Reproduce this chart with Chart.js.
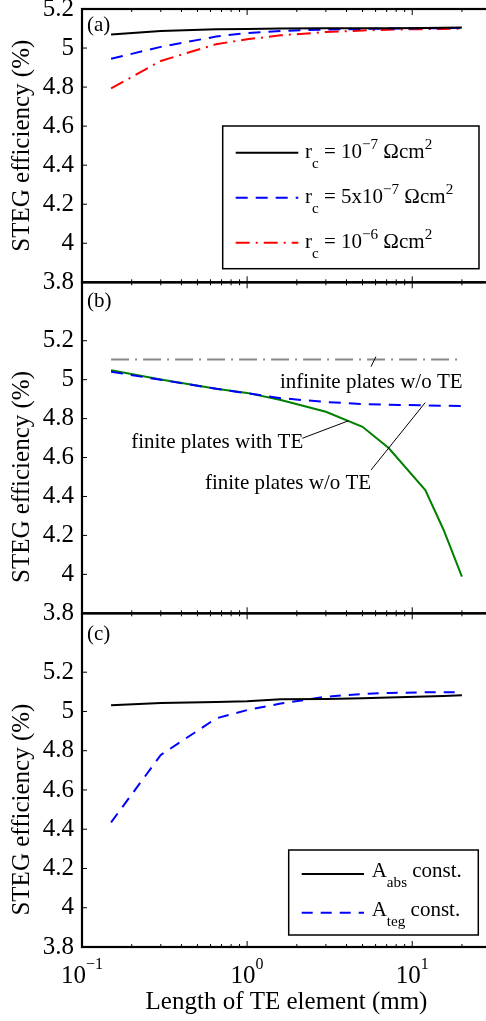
<!DOCTYPE html>
<html lang="en">
  <head>
    <meta charset="UTF-8" />
    <title>STEG efficiency vs length of TE element</title>
    <script src="https://cdn.jsdelivr.net/npm/chart.js@4.4.0/dist/chart.umd.min.js"></script>
    <style>
      html, body {
        margin: 0;
        padding: 0;
        width: 486px;
        height: 1021px;
        overflow: hidden;
        background: #fff;
      }
      canvas {
        position: absolute;
        left: 0;
      }
      #panelA { top: 0; }
      #panelB { top: 270px; }
      #panelC { top: 600px; }
    </style>
  </head>
  <body>
    <canvas id="panelA" width="500" height="300"></canvas>
    <canvas id="panelB" width="500" height="350"></canvas>
    <canvas id="panelC" width="500" height="421"></canvas>

    <script>
      // ---------- data (x: mm, y: %) ----------
      const lengthMm = [0.15, 0.3, 0.65, 1, 1.6, 3, 5, 7.2, 12, 15.5, 20];

      // (a) contact resistance r_c
      const effRc1e7 = [5.070, 5.087, 5.096, 5.098, 5.100, 5.101, 5.102, 5.102, 5.103, 5.104, 5.105];
      const effRc5e7 = [4.945, 5.006, 5.059, 5.077, 5.088, 5.095, 5.098, 5.100, 5.101, 5.102, 5.103];
      const effRc1e6 = [4.793, 4.934, 5.020, 5.045, 5.065, 5.082, 5.090, 5.094, 5.097, 5.098, 5.100];

      // (b) plate models
      const effInfiniteNoTE = [5.104, 5.104, 5.104, 5.104, 5.104, 5.104, 5.104, 5.104, 5.104, 5.104, 5.104];
      const effFiniteWithTE = [5.048, 5.001, 4.953, 4.932, 4.895, 4.835, 4.758, 4.649, 4.433, 4.228, 3.988];
      const effFiniteNoTE = [5.041, 4.999, 4.953, 4.930, 4.905, 4.885, 4.875, 4.871, 4.868, 4.866, 4.865];

      // (c) constant area
      const effAabsConst = [5.031, 5.043, 5.048, 5.052, 5.062, 5.063, 5.067, 5.071, 5.076, 5.079, 5.082];
      const effAtegConst = [4.435, 4.778, 4.965, 5.007, 5.040, 5.075, 5.089, 5.094, 5.098, 5.098, 5.098];

      // ticks
      const yTicks = [3.8, 4, 4.2, 4.4, 4.6, 4.8, 5, 5.2];
      const xTicks = [0.1, 1, 10];
      const xTickExp = ["\u22121", "0", "1"];
      const xMinorTicks = [0.2, 0.3, 0.4, 0.5, 0.6, 0.7, 0.8, 0.9, 2, 3, 4, 5, 6, 7, 8, 9, 20];

      const FONT = '"Liberation Serif", "Times New Roman", "DejaVu Serif", serif';

      function pts(ys) {
        return lengthMm.map((x, i) => ({ x: x, y: ys[i] }));
      }

      // text with sub / superscripts, parts = [[text, ''|'sub'|'sup'], ...]
      function drawRich(ctx, parts, x, y, size) {
        let cx = x;
        ctx.textAlign = "left";
        ctx.textBaseline = "alphabetic";
        for (const [t, kind] of parts) {
          const s = kind ? size * 0.72 : size;
          ctx.font = s + "px " + FONT;
          let dy = 0;
          if (kind === "sub") dy = size * 0.48;
          if (kind === "sup") dy = -size * 0.42;
          ctx.fillText(t, cx, y + dy);
          cx += ctx.measureText(t).width;
        }
      }

      function strokeSample(ctx, ds, x1, x2, y) {
        ctx.save();
        ctx.strokeStyle = ds.borderColor;
        ctx.lineWidth = ds.borderWidth;
        ctx.setLineDash(ds.borderDash || []);
        ctx.beginPath();
        ctx.moveTo(x1, y);
        ctx.lineTo(x2, y);
        ctx.stroke();
        ctx.restore();
      }

      const deco = {
        id: "deco",
        afterDraw(chart, args, opts) {
          const { ctx, chartArea: a } = chart;
          const x = chart.scales.x, y = chart.scales.y;
          ctx.save();

          // inward tick marks
          ctx.strokeStyle = "#000";
          ctx.lineWidth = 1;
          ctx.beginPath();
          for (const v of xTicks) {
            const px = x.getPixelForValue(v);
            ctx.moveTo(px, a.bottom); ctx.lineTo(px, a.bottom - 6);
            ctx.moveTo(px, a.top); ctx.lineTo(px, a.top + 6);
          }
          for (const v of xMinorTicks) {
            const px = x.getPixelForValue(v);
            ctx.moveTo(px, a.bottom); ctx.lineTo(px, a.bottom - 3);
            ctx.moveTo(px, a.top); ctx.lineTo(px, a.top + 3);
          }
          for (const v of yTicks) {
            const py = y.getPixelForValue(v);
            ctx.moveTo(a.left, py); ctx.lineTo(a.left + 5, py);
            ctx.moveTo(a.right, py); ctx.lineTo(a.right - 5, py);
          }
          ctx.stroke();

          // box
          ctx.lineWidth = 2.2;
          ctx.strokeRect(a.left, a.top, a.right - a.left, a.bottom - a.top);

          ctx.fillStyle = "#000";

          // panel letter
          ctx.font = "21px " + FONT;
          ctx.textAlign = "left";
          ctx.textBaseline = "middle";
          ctx.fillText(opts.tag, a.left + 5, a.top + opts.tagDy);

          // y title, centred on the labelled tick range
          ctx.save();
          ctx.translate(22, y.getPixelForValue(4.5));
          ctx.rotate(-Math.PI / 2);
          ctx.font = "25px " + FONT;
          ctx.textAlign = "center";
          ctx.textBaseline = "middle";
          ctx.fillText("STEG efficiency (%)", 0, 0);
          ctx.restore();

          // x tick labels 10^n
          if (opts.xLabels) {
            xTicks.forEach((v, i) => {
              const px = x.getPixelForValue(v);
              ctx.font = "25px " + FONT;
              const wb = ctx.measureText("10").width;
              ctx.font = "16px " + FONT;
              const we = ctx.measureText(xTickExp[i]).width;
              const x0 = px - (wb + we) / 2;
              const base = a.bottom + 36;
              ctx.textAlign = "left";
              ctx.textBaseline = "alphabetic";
              ctx.font = "25px " + FONT;
              ctx.fillText("10", x0, base);
              ctx.font = "16px " + FONT;
              ctx.fillText(xTickExp[i], x0 + wb, base - 14);
            });
          }

          // annotations with leader lines (data coordinates)
          for (const n of opts.notes || []) {
            ctx.strokeStyle = "#000";
            ctx.lineWidth = 1;
            ctx.beginPath();
            ctx.moveTo(x.getPixelForValue(n.from[0]), y.getPixelForValue(n.from[1]));
            ctx.lineTo(x.getPixelForValue(n.to[0]), y.getPixelForValue(n.to[1]));
            ctx.stroke();
            ctx.font = "21px " + FONT;
            ctx.textAlign = "center";
            ctx.textBaseline = "middle";
            ctx.fillText(n.text, x.getPixelForValue(n.at[0]), y.getPixelForValue(n.at[1]));
          }

          // legend box
          const lg = opts.legend;
          if (lg) {
            ctx.fillStyle = "#fff";
            ctx.fillRect(lg.box[0], lg.box[1], lg.box[2], lg.box[3]);
            ctx.strokeStyle = "#000";
            ctx.lineWidth = 1.5;
            ctx.strokeRect(lg.box[0], lg.box[1], lg.box[2], lg.box[3]);
            ctx.fillStyle = "#000";
            lg.rows.forEach((r, i) => {
              const ds = chart.data.datasets[i];
              strokeSample(ctx, ds, lg.line[0], lg.line[1], r.y);
              drawRich(ctx, r.parts, lg.textX, r.y + lg.base, 21);
            });
          }
          ctx.restore();
        },
      };

      function makePanel(id, yMax, xAxisHeight, padTop, datasets, deco_opts, xTitle) {
        return new Chart(document.getElementById(id), {
          type: "line",
          data: { datasets: datasets },
          options: {
            responsive: false,
            animation: false,
            events: [],
            layout: { padding: { top: padTop, right: 9, left: 0, bottom: 0 } },
            elements: { point: { radius: 0 }, line: { tension: 0 } },
            scales: {
              x: {
                type: "logarithmic",
                min: 0.1,
                max: 30,
                grid: { display: false, drawTicks: false },
                border: { display: false },
                ticks: { display: false },
                title: {
                  display: !!xTitle,
                  text: xTitle || "",
                  color: "#000",
                  font: { family: FONT, size: 25 },
                  padding: { top: 0, bottom: 4 },
                },
                afterFit: (s) => {
                  s.height = xAxisHeight;
                  s.paddingLeft = 0;
                  s.paddingRight = 0;
                },
              },
              y: {
                type: "linear",
                min: 3.8,
                max: yMax,
                grid: { display: false, drawTicks: false },
                border: { display: false },
                afterBuildTicks: (s) => { s.ticks = yTicks.map((v) => ({ value: v })); },
                ticks: {
                  color: "#000",
                  padding: 8,
                  font: { family: FONT, size: 25 },
                  callback: (v) => String(+v.toFixed(1)),
                },
                afterFit: (s) => {
                  s.width = 82;
                  s.paddingTop = 0;
                  s.paddingBottom = 0;
                },
              },
            },
            plugins: {
              legend: { display: false },
              tooltip: { enabled: false },
              deco: deco_opts,
            },
          },
          plugins: [deco],
        });
      }

      // ---------- (a) ----------
      makePanel("panelA", 5.2, 17.7, 9, [
        { label: "rc 1e-7", data: pts(effRc1e7), borderColor: "#000000", borderWidth: 2 },
        { label: "rc 5e-7", data: pts(effRc5e7), borderColor: "#0000ff", borderWidth: 2, borderDash: [12, 8] },
        { label: "rc 1e-6", data: pts(effRc1e6), borderColor: "#ff0000", borderWidth: 2, borderDash: [14, 6, 2, 6] },
      ], {
        tag: "(a)",
        tagDy: 16,
        legend: {
          box: [222.7, 126, 256.3, 142.7],
          line: [235.7, 298.3],
          textX: 305,
          base: 5,
          rows: [
            { y: 152.7, parts: [["r", ""], ["c", "sub"], [" = 10", ""], ["\u22127", "sup"], [" \u03A9cm", ""], ["2", "sup"]] },
            { y: 197.7, parts: [["r", ""], ["c", "sub"], [" = 5x10", ""], ["\u22127", "sup"], [" \u03A9cm", ""], ["2", "sup"]] },
            { y: 242.7, parts: [["r", ""], ["c", "sub"], [" = 10", ""], ["\u22126", "sup"], [" \u03A9cm", ""], ["2", "sup"]] },
          ],
        },
      });

      // ---------- (b) ----------
      makePanel("panelB", 5.5, 6.7, 12.3, [
        { label: "infinite plates w/o TE", data: pts(effInfiniteNoTE), borderColor: "#888888", borderWidth: 2, borderDash: [18, 6, 2, 6] },
        { label: "finite plates w/o TE", data: pts(effFiniteNoTE), borderColor: "#0000ff", borderWidth: 2, borderDash: [12, 8] },
        { label: "finite plates with TE", data: pts(effFiniteWithTE), borderColor: "#008000", borderWidth: 2 },
      ], {
        tag: "(b)",
        tagDy: 19,
        notes: [
          { text: "infinite plates w/o TE", at: [5.65, 4.988], from: [5.63, 5.067], to: [6.03, 5.118] },
          { text: "finite plates with TE", at: [0.659, 4.676], from: [2.16, 4.699], to: [4.12, 4.789] },
          { text: "finite plates w/o TE", at: [1.77, 4.468], from: [5.63, 4.536], to: [11.98, 4.882] },
        ],
      });

      // ---------- (c) ----------
      makePanel("panelC", 5.5, 74, 13.3, [
        { label: "A_abs const.", data: pts(effAabsConst), borderColor: "#000000", borderWidth: 2 },
        { label: "A_teg const.", data: pts(effAtegConst), borderColor: "#0000ff", borderWidth: 2, borderDash: [11, 8] },
      ], {
        tag: "(c)",
        tagDy: 21,
        xLabels: true,
        legend: {
          box: [288.7, 250, 189.6, 85],
          line: [301.7, 364],
          textX: 371.7,
          base: 3,
          rows: [
            { y: 274, parts: [["A", ""], ["abs", "sub"], [" const.", ""]] },
            { y: 312.7, parts: [["A", ""], ["teg", "sub"], [" const.", ""]] },
          ],
        },
      }, "Length of TE element (mm)");
    </script>
  </body>
</html>
